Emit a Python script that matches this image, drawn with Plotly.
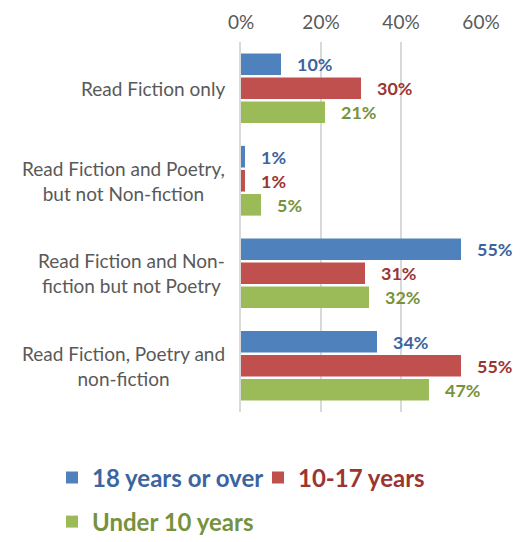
import plotly.graph_objects as go

categories = [
    "Read Fiction only",
    "Read Fiction and Poetry,<br>but not Non-fiction",
    "Read Fiction and Non-<br>fiction but not Poetry",
    "Read Fiction, Poetry and<br>non-fiction",
]
adults = [10, 1, 55, 34]
teens = [30, 1, 31, 55]
kids = [21, 5, 32, 47]
tick_vals = [0, 20, 40, 60]
tick_text = ["0%", "20%", "40%", "60%"]

series = [
    ("18 years or over", adults, "#4F81BD", "#3B64A0", "legend"),
    ("10-17 years", teens, "#C0504D", "#9B3532", "legend2"),
    ("Under 10 years", kids, "#9BBB59", "#76923C", "legend3"),
]

W, H = 514, 534  # page body adds 8px on the left/top

fig = go.Figure()

for name, vals, col, txtcol, leg in series:
    fig.add_trace(go.Bar(
        y=categories,
        x=vals,
        orientation="h",
        name=f"<span style='color:{txtcol}'><b>{name}</b></span>",
        marker=dict(color=col, line=dict(width=0)),
        text=[f"{v}%" for v in vals],
        texttemplate="\u00a0\u00a0\u00a0%{text}",
        textposition="outside",
        textfont=dict(family="Lato", size=19, color=txtcol, weight="bold"),
        cliponaxis=False,
        legend=leg,
    ))

for c in categories:
    fig.add_annotation(
        x=0, xref="paper", y=c, yref="y",
        text=c, showarrow=False,
        xanchor="right", align="center", xshift=-14,
        font=dict(family="Lato", size=19, color="#595959"),
    )

legend_style = dict(
    orientation="h",
    xref="container", yref="container",
    xanchor="left", yanchor="middle",
    font=dict(family="Lato", size=24),
    bgcolor="rgba(0,0,0,0)",
    itemwidth=30,
)

fig.update_layout(
    width=W, height=H,
    margin=dict(l=233, r=41, t=34, b=130, autoexpand=False),
    plot_bgcolor="white", paper_bgcolor="white",
    barmode="group", bargap=0.22, bargroupgap=0.1,
    font=dict(family="Lato", color="#595959"),
    legend=dict(x=44 / W, y=1 - 470 / H, **legend_style),
    legend2=dict(x=250 / W, y=1 - 470 / H, **legend_style),
    legend3=dict(x=44 / W, y=1 - 514 / H, **legend_style),
    showlegend=True,
)
fig.update_xaxes(
    range=[0, 60], side="top", tickmode="array",
    tickvals=tick_vals, ticktext=tick_text,
    showgrid=True, gridcolor="#D9D9D9", gridwidth=1.5,
    zeroline=False, showline=False, ticklabelstandoff=8,
    tickfont=dict(family="Lato", size=19, color="#595959"),
)
fig.update_yaxes(autorange="reversed", showticklabels=False, showgrid=False,
                 showline=True, linecolor="#D9D9D9", linewidth=1.5)

fig.write_html("out.html")
